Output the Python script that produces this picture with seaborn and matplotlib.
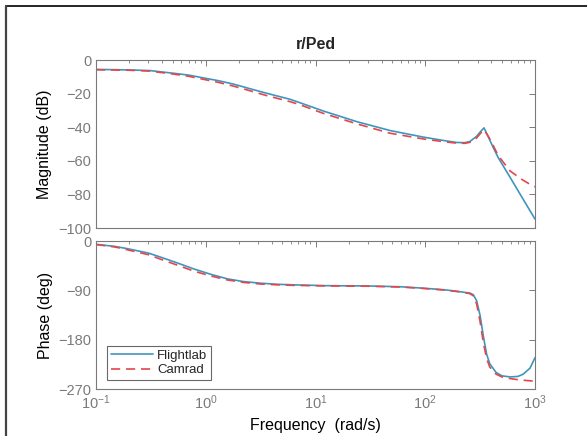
import numpy as np
import pandas as pd
import matplotlib
matplotlib.use("Agg")
import matplotlib.pyplot as plt
import seaborn as sns
from matplotlib.lines import Line2D
from matplotlib.ticker import LogLocator, NullFormatter

# ---- data ----
mag_freq_flightlab = [0.1, 0.2, 0.31, 0.51, 0.7, 0.89, 1.3, 1.78, 2.5, 3.59, 5.87, 7.2, 11.7,
                      23.8, 47.9, 96.2, 150, 194, 230, 255, 293, 320, 343, 380, 417, 463,
                      600, 800, 1000]
mag_flightlab = [-5.6, -5.9, -6.3, -7.9, -9.0, -10.3, -12.3, -14.3, -17.0, -19.8, -23.4,
                 -25.4, -30.3, -36.7, -42.0, -45.9, -48.0, -49.1, -49.2, -48.5, -45.5,
                 -42.5, -40.4, -46.5, -52.2, -58.2, -70.4, -84.1, -94.7]
mag_freq_camrad = [0.1, 0.2, 0.31, 0.51, 0.7, 0.89, 1.3, 1.78, 2.5, 3.59, 5.87, 7.2, 11.7,
                   23.8, 47.9, 96.2, 150, 194, 230, 255, 293, 320, 343, 380, 417, 463,
                   592, 755, 933, 1000]
mag_camrad = [-5.8, -6.1, -6.6, -8.4, -9.7, -11.1, -13.3, -15.5, -18.2, -21.2, -24.8,
              -26.6, -31.7, -38.0, -43.6, -47.0, -48.7, -49.5, -49.6, -49.0, -46.5,
              -43.5, -41.5, -46.0, -51.0, -57.0, -66.0, -71.0, -74.6, -75.5]

phase_freq = [0.1, 0.15, 0.193, 0.3, 0.39, 0.55, 0.78, 1.1, 1.57, 2.2, 3.16, 4.5, 6.37,
              12.7, 30, 60, 95, 150, 200, 255, 274, 294, 316, 338, 362, 387, 443, 500,
              595, 700, 780, 900, 1000]
phase_flightlab = [-6, -10, -14, -22, -29.6, -40, -51, -60.5, -69, -74, -77, -79, -80,
                   -81.5, -82, -83.5, -86, -89, -92, -95, -98, -109, -136, -173, -206,
                   -224, -240, -246, -248, -247, -243, -232, -213]
phase_camrad = [-6.5, -11, -16, -25, -33.4, -44, -55, -63.5, -71, -75.5, -78.5, -80, -81,
                -82, -82.5, -84, -86.5, -89.5, -92.5, -96, -100, -115, -147, -185, -214,
                -230, -243, -248, -251, -253, -254, -255, -256]

series_names = ["Flightlab", "Camrad"]

mag_df = pd.DataFrame({
    "Frequency": mag_freq_flightlab + mag_freq_camrad,
    "Magnitude": mag_flightlab + mag_camrad,
    "Series": [series_names[0]] * len(mag_freq_flightlab)
              + [series_names[1]] * len(mag_freq_camrad),
})
ph_df = pd.DataFrame({
    "Frequency": phase_freq * 2,
    "Phase": phase_flightlab + phase_camrad,
    "Series": [series_names[0]] * len(phase_freq) + [series_names[1]] * len(phase_freq),
})

sns.set_style("white")
plt.rcParams["font.family"] = ["Liberation Sans", "DejaVu Sans"]

blue = "#3f95bd"
red = "#e2474b"
gray = "#7a7a7a"
palette = {"Flightlab": blue, "Camrad": red}
dashes = {"Flightlab": "", "Camrad": (5.5, 3.5)}

fig = plt.figure(figsize=(5.87, 4.36), dpi=100)
ax1 = fig.add_axes([96 / 587, (436 - 228) / 436, 439 / 587, 168 / 436])
ax2 = fig.add_axes([96 / 587, (436 - 389) / 436, 439 / 587, 148 / 436])

sns.lineplot(data=mag_df, x="Frequency", y="Magnitude", hue="Series", style="Series",
             palette=palette, dashes=dashes, linewidth=1.2, ax=ax1, legend=False,
             sort=True)
sns.lineplot(data=ph_df, x="Frequency", y="Phase", hue="Series", style="Series",
             palette=palette, dashes=dashes, linewidth=1.2, ax=ax2, legend=False,
             sort=True)

for ax in (ax1, ax2):
    ax.set_xscale("log")
    ax.set_xlim(0.1, 1000)
    ax.xaxis.set_major_locator(LogLocator(base=10, numticks=10))
    ax.xaxis.set_minor_locator(LogLocator(base=10, subs=np.arange(2, 10), numticks=100))
    ax.xaxis.set_minor_formatter(NullFormatter())
    ax.tick_params(which="both", direction="in", top=True, right=True, colors=gray,
                   labelsize=10.5)
    ax.tick_params(which="major", length=4, width=0.7)
    ax.tick_params(which="minor", length=2.2, width=0.6)
    for s in ax.spines.values():
        s.set_color(gray)
        s.set_linewidth(0.8)
    ax.set_xlabel("")

ax1.set_ylim(-100, 0)
ax1.set_yticks([-100, -80, -60, -40, -20, 0])
ax1.set_xticklabels([])
ax1.set_ylabel("Magnitude (dB)", fontsize=11.5, color="black")
ax1.set_title("r/Ped", fontsize=11.5, fontweight="bold", pad=8)

ax2.set_ylim(-270, 0)
ax2.set_yticks([-270, -180, -90, 0])
ax2.set_ylabel("Phase (deg)", fontsize=11.5, color="black")
ax2.set_xlabel("Frequency  (rad/s)", fontsize=11.5, color="black", labelpad=4)

handles = [Line2D([0], [0], color=blue, lw=1.2),
           Line2D([0], [0], color=red, lw=1.2, dashes=(5.5, 3.5))]
leg = ax2.legend(handles, series_names, loc="lower left", bbox_to_anchor=(0.025, 0.06),
                 borderaxespad=0, fontsize=9.5, frameon=True, fancybox=False,
                 handlelength=3.2, handletextpad=0.3, borderpad=0.3, labelspacing=0.15)
leg.get_frame().set_edgecolor("#444444")
leg.get_frame().set_linewidth(0.8)

# figure frame (top and left border)
fig.add_artist(Line2D([6 / 587, 1.0], [1 - 6 / 436, 1 - 6 / 436], color="black", lw=1.2,
                      transform=fig.transFigure))
fig.add_artist(Line2D([6 / 587, 6 / 587], [0.0, 1 - 6 / 436], color="#444444", lw=1.6,
                      transform=fig.transFigure))

fig.savefig("out.png", dpi=100)
